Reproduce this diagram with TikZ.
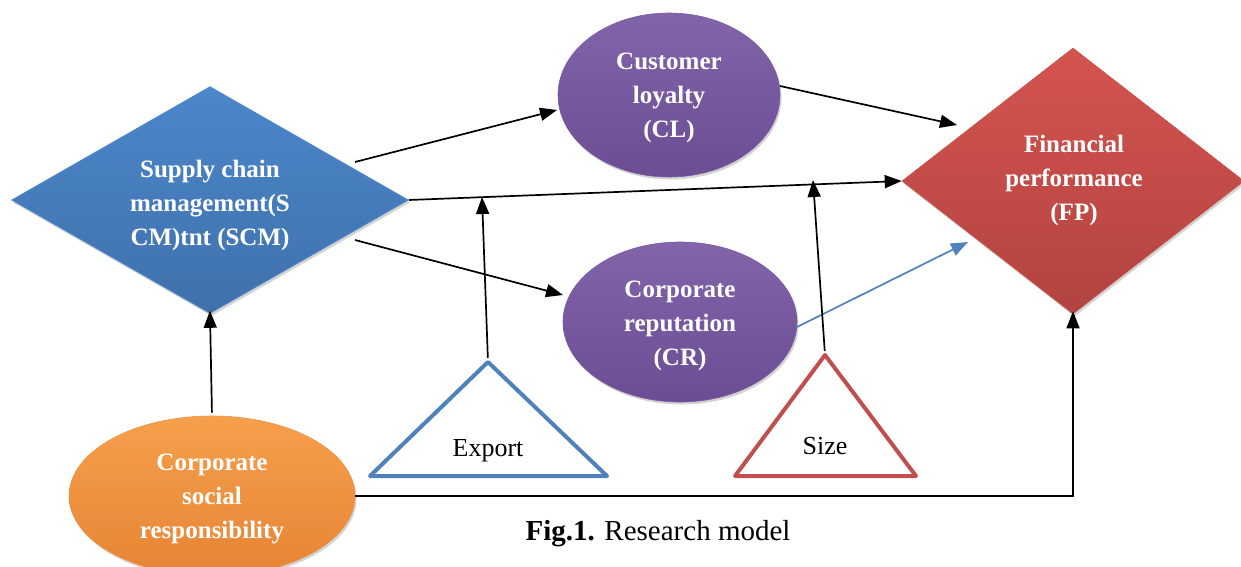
\documentclass[tikz,border=0pt]{standalone}
\usepackage{fontspec}
\setmainfont{Liberation Serif}
\usetikzlibrary{shapes.geometric,arrows.meta,shadows,calc}
\definecolor{scmtop}{HTML}{4C87CA}
\definecolor{scmbot}{HTML}{3F70AC}
\definecolor{scmedge}{HTML}{5A8FCC}
\definecolor{fptop}{HTML}{D4544F}
\definecolor{fpbot}{HTML}{B24340}
\definecolor{fpedge}{HTML}{C9504B}
\definecolor{purtop}{HTML}{8264AB}
\definecolor{purbot}{HTML}{6B4D93}
\definecolor{puredge}{HTML}{7A5DA3}
\definecolor{ortop}{HTML}{F6A04C}
\definecolor{orbot}{HTML}{E68434}
\definecolor{oredge}{HTML}{EE9040}
\definecolor{expblue}{HTML}{4F81BD}
\definecolor{sizered}{HTML}{C0504D}
\begin{document}
\begin{tikzpicture}[x=1pt,y=-1pt,
  lbl/.style={text=white,font=\fontsize{25}{34}\selectfont\bfseries,align=center},
  plain/.style={font=\fontsize{26}{30}\selectfont},
  arr/.style={-{Triangle[length=17pt,width=13pt]},line width=1.7pt,black},
  shapeshadow/.style={drop shadow={opacity=0.35,shadow xshift=1.5pt,shadow yshift=-2.5pt}},
  dia/.style={diamond,inner sep=0pt,shapeshadow,line width=0.6pt},
  ell/.style={ellipse,inner sep=0pt,shapeshadow,line width=0.6pt},
  tri/.style={line width=4pt,line join=round,fill=white}
]
\useasboundingbox (0,0) rectangle (1241,567);

% shapes
\node[dia,minimum width=397pt,minimum height=227pt,top color=scmtop,bottom color=scmbot,draw=scmedge] (scm) at (210,200) {};
\node[lbl] (scmtext) at (210,205) {Supply chain\\management(S\\CM)tnt (SCM)};

\node[dia,minimum width=342pt,minimum height=266pt,top color=fptop,bottom color=fpbot,draw=fpedge] (fp) at (1073,181) {};
\node[lbl] (fptext) at (1074,180) {Financial\\performance\\(FP)};

\node[ell,minimum width=222pt,minimum height=164pt,top color=purtop,bottom color=purbot,draw=puredge] (cl) at (669,95) {};
\node[lbl] (cltext) at (669,98) {Customer\\loyalty\\(CL)};

\node[ell,minimum width=234pt,minimum height=160pt,top color=purtop,bottom color=purbot,draw=puredge] (cr) at (680,322) {};
\node[lbl] (crtext) at (680,326) {Corporate\\reputation\\(CR)};

\node[ell,minimum width=286pt,minimum height=160pt,top color=ortop,bottom color=orbot,draw=oredge] (csr) at (212,496) {};
\node[lbl] (csrtext) at (212,499) {Corporate\\social\\responsibility};

% triangles
\coordinate (expTop) at (488,362);
\coordinate (expL) at (370,476);
\coordinate (expR) at (607,476);
\draw[tri,draw=expblue] (expTop) -- (expR) -- (expL) -- cycle;
\node[plain] (exptext) at (488,451) {Export};

\coordinate (sizeTop) at (825,355);
\coordinate (sizeL) at (735,476);
\coordinate (sizeR) at (916,476);
\draw[tri,draw=sizered] (sizeTop) -- (sizeR) -- (sizeL) -- cycle;
\node[plain] (sizetext) at (825,446) {Size};

% connectors
\coordinate (a1s) at (355,162);
\coordinate (a1e) at (557,110);
\draw[arr] (a1s) -- (a1e);
\draw[arr] (scm.east) -- (fp.west);
\coordinate (a3s) at (355,240);
\coordinate (a3e) at (563,295);
\draw[arr] (a3s) -- (a3e);
\coordinate (a4s) at (780,86);
\coordinate (a4e) at (957,125);
\draw[arr] (a4s) -- (a4e);
\coordinate (a5s) at (797,327);
\coordinate (a5e) at (968,242);
\draw[arr,draw=expblue,fill=expblue] (a5s) -- (a5e);
\draw[arr,shorten >=-3pt,shorten <=3pt] (csr.north) -- (scm.south);
\draw[arr,shorten >=-3pt] (csr.east) -| (fp.south);
\coordinate (expTip) at (482,197);
\draw[arr,shorten <=4pt] (expTop) -- (expTip);
\coordinate (sizeTip) at (813,180);
\draw[arr,shorten <=4pt] (sizeTop) -- (sizeTip);

% caption
\node[font=\fontsize{29}{34}\selectfont,anchor=base] (caption) at (658,540) {\textbf{Fig.1.} Research model};
\end{tikzpicture}
\end{document}
